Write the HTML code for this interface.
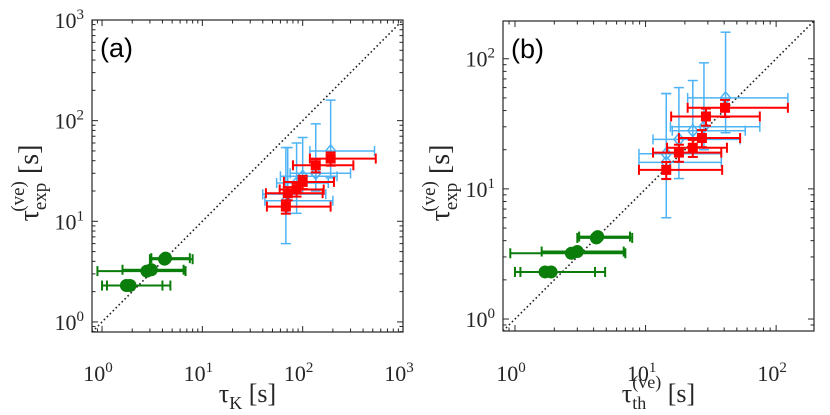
<!DOCTYPE html>
<html><head><meta charset="utf-8"><style>
html,body{margin:0;padding:0;background:#fff}
svg{display:block}
text{font-family:"Liberation Serif",serif;fill:#262626}
</style></head><body>
<svg id="chart" width="830" height="415" viewBox="0 0 830 415" xmlns="http://www.w3.org/2000/svg"></svg>
<script>
// ---- data ----
const greenXA = [1.75, 1.9, 2.8, 3.1, 4.2, 4.3];
const greenXB = [1.7, 1.89, 2.7, 3.0, 4.2, 4.3];
const greenY = [2.3, 2.3, 3.2, 3.3, 4.2, 4.3];
const greenXErrLoA = [1.0, 1.12, 0.9, 1.6, 3.0, 3.1];
const greenXErrHiA = [4.8, 4.0, 6.8, 6.5, 8.0, 7.5];
const greenXErrLoB = [1.0, 1.1, 0.92, 1.6, 3.0, 3.1];
const greenXErrHiB = [4.1, 4.9, 7.0, 6.8, 7.9, 7.6];

const redXA = [190, 135, 100, 87, 71, 68];
const redXB = [40.6, 29, 27, 23, 18, 14.4];
const redY = [42, 36, 24.6, 20.7, 19, 14];
const redXErrLoA = [118, 80, 65, 59, 43, 44];
const redXErrHiA = [535, 320, 205, 162, 158, 190];
const redXErrLoB = [21, 15.7, 18, 14.6, 11.4, 8.9];
const redXErrHiB = [123, 75, 53, 42, 38, 38.6];

const blueXA = [190, 135, 100, 87, 71, 68];
const blueXB = [41, 28, 23, 18, 14.4, 14.4];
const blueY = [50, 30, 28, 24, 18.6, 16];
const blueYErrLo = [27, 20, 19, 12, 12, 6];
const blueYErrHi = [160, 93, 68, 60, 54, 54];
const blueXErrLoA = [118, 75, 60, 55, 40, 42];
const blueXErrHiA = [520, 300, 220, 180, 170, 200];
const blueXErrLoB = [21, 15.5, 16, 11.4, 8.9, 8.9];
const blueXErrHiB = [123, 75, 58, 53, 38, 38];

const ticksA = [0, 1, 2, 3];
const ticksB = [0, 1, 2];

const NS = "http://www.w3.org/2000/svg";
const svg = document.getElementById('chart');
function mk(tag, attrs, parent) {
  const e = document.createElementNS(NS, tag);
  for (const k in attrs) e.setAttribute(k, attrs[k]);
  (parent || svg).appendChild(e);
  return e;
}
function makeAxis(x0, x1, y0, y1, lo, hi) {
  return {
    x: v => x0 + (Math.log10(v) - lo) / (hi - lo) * (x1 - x0),
    y: v => y1 - (Math.log10(v) - lo) / (hi - lo) * (y1 - y0),
    x0, x1, y0, y1, lo, hi
  };
}
const A = makeAxis(92, 403, 20, 332, -0.1, 3);
const B = makeAxis(503, 814, 21, 331, -0.092, 2.29);

function drawPanel(ax, name, ticks, letter, gx, gxl, gxh, rx, rxl, rxh, bx, bxl, bxh, xTitleSub) {
  const g = mk('g', {});
  
  
  const lo = Math.pow(10, ax.lo), hi = Math.pow(10, ax.hi);
  const d = mk('line', {x1: ax.x(lo), y1: ax.y(lo), x2: ax.x(hi), y2: ax.y(hi), stroke: '#222', 'stroke-width': 1.6, 'stroke-dasharray': '1.6 2.6'}, g);
  
  
  const tg = mk('g', {stroke: '#262626', 'stroke-width': 1}, g);
  
  
  for (let dec = Math.floor(ax.lo); dec <= Math.ceil(ax.hi); dec++) {
    for (let m = 1; m <= 9; m++) {
      const v = m * Math.pow(10, dec);
      const lv = Math.log10(v);
      if (lv < ax.lo - 1e-9 || lv > ax.hi + 1e-9) continue;
      const L = m === 1 ? 6 : 3.5;
      const X = ax.x(v), Y = ax.y(v);
      mk('line', {x1: X, y1: ax.y1, x2: X, y2: ax.y1 - L}, tg);
      mk('line', {x1: X, y1: ax.y0, x2: X, y2: ax.y0 + L}, tg);
      mk('line', {x1: ax.x0, y1: Y, x2: ax.x0 + L, y2: Y}, tg);
      mk('line', {x1: ax.x1, y1: Y, x2: ax.x1 - L, y2: Y}, tg);
    }
  }
  ticks.forEach(t => {
    const v = Math.pow(10, t);
    const xl = mk('text', {x: ax.x(v) - 4, y: 381, 'font-size': 22, 'text-anchor': 'middle'}, g);
    
    
    xl.innerHTML = '10<tspan dy="-9" font-size="15">' + t + '</tspan>';
    const yl = mk('text', {x: ax.x0 - 8, y: ax.y(v) + 8, 'font-size': 22, 'text-anchor': 'end'}, g);
    
    
    yl.innerHTML = '10<tspan dy="-9" font-size="15">' + t + '</tspan>';
  });
  const gg = mk('g', {stroke: '#0a7d0a', fill: '#0a7d0a', 'stroke-width': 2}, g);
  
  
  gx.forEach((v, i) => {
    const Y = ax.y(greenY[i]), a1 = ax.x(gxl[i]), a2 = ax.x(gxh[i]);
    mk('line', {x1: a1, y1: Y, x2: a2, y2: Y}, gg);
    mk('line', {x1: a1, y1: Y - 5, x2: a1, y2: Y + 5}, gg);
    mk('line', {x1: a2, y1: Y - 5, x2: a2, y2: Y + 5}, gg);
  });
  gx.forEach((v, i) => {
    const c = mk('circle', {cx: ax.x(v), cy: ax.y(greenY[i]), r: 6.5, stroke: 'none'}, gg);
    
    
  });
  const bg = mk('g', {stroke: '#4db3f5', fill: 'none', 'stroke-width': 1.5}, g);
  
  
  bx.forEach((v, i) => {
    const X = ax.x(v), Y = ax.y(blueY[i]);
    const a1 = ax.x(bxl[i]), a2 = ax.x(bxh[i]);
    const b1 = ax.y(blueYErrLo[i]), b2 = ax.y(blueYErrHi[i]);
    mk('line', {x1: a1, y1: Y, x2: a2, y2: Y}, bg);
    mk('line', {x1: a1, y1: Y - 5, x2: a1, y2: Y + 5}, bg);
    mk('line', {x1: a2, y1: Y - 5, x2: a2, y2: Y + 5}, bg);
    mk('line', {x1: X, y1: b1, x2: X, y2: b2}, bg);
    mk('line', {x1: X - 5, y1: b1, x2: X + 5, y2: b1}, bg);
    mk('line', {x1: X - 5, y1: b2, x2: X + 5, y2: b2}, bg);
    const p = mk('polygon', {points: `${X},${Y-6} ${X+5},${Y} ${X},${Y+6} ${X-5},${Y}`}, bg);
    
    
  });
  const rg = mk('g', {stroke: '#ff0000', fill: '#ff0000', 'stroke-width': 2}, g);
  
  
  rx.forEach((v, i) => {
    const X = ax.x(v), Y = ax.y(redY[i]);
    const a1 = ax.x(rxl[i]), a2 = ax.x(rxh[i]);
    const b1 = ax.y(redY[i] * 0.85), b2 = ax.y(redY[i] * 1.15);
    mk('line', {x1: a1, y1: Y, x2: a2, y2: Y}, rg);
    mk('line', {x1: a1, y1: Y - 5, x2: a1, y2: Y + 5}, rg);
    mk('line', {x1: a2, y1: Y - 5, x2: a2, y2: Y + 5}, rg);
    mk('line', {x1: X, y1: b1, x2: X, y2: b2}, rg);
    mk('line', {x1: X - 5, y1: b1, x2: X + 5, y2: b1}, rg);
    mk('line', {x1: X - 5, y1: b2, x2: X + 5, y2: b2}, rg);
    const s = mk('rect', {x: X - 5, y: Y - 5, width: 10, height: 10, stroke: 'none'}, rg);
    
    
  });
  const box = mk('rect', {x: ax.x0, y: ax.y0, width: ax.x1 - ax.x0, height: ax.y1 - ax.y0, fill: 'none', stroke: '#262626', 'stroke-width': 1.2}, g);
  
  
  const pl = mk('text', {x: ax.x0 + 8, y: ax.y0 + 37, 'font-size': 27, style: 'font-family:"Liberation Sans",sans-serif;fill:#000'}, g);
  
  
  pl.textContent = letter;
  const cx = (ax.x0 + ax.x1) / 2;
  const xt = mk('text', {x: cx, y: 402, 'font-size': 26, 'text-anchor': 'middle'}, g);
  
  
  xt.innerHTML = xTitleSub;
  const cy = (ax.y0 + ax.y1) / 2;
  const yt = mk('text', {x: 0, y: 0, 'font-size': 28, 'text-anchor': 'middle', transform: `translate(${ax.x0 - 54},${cy + 7}) rotate(-90)`}, g);
  
  
  yt.innerHTML = 'τ<tspan dy="8" font-size="19">exp</tspan><tspan dx="-29" dy="-22" font-size="19">(ve)</tspan><tspan dy="14"> [s]</tspan>';
}

drawPanel(A, 'a', ticksA, '(a)', greenXA, greenXErrLoA, greenXErrHiA, redXA, redXErrLoA, redXErrHiA, blueXA, blueXErrLoA, blueXErrHiA,
  'τ<tspan dy="7" font-size="18">K</tspan><tspan dy="-7"> [s]</tspan>');
drawPanel(B, 'b', ticksB, '(b)', greenXB, greenXErrLoB, greenXErrHiB, redXB, redXErrLoB, redXErrHiB, blueXB, blueXErrLoB, blueXErrHiB,
  'τ<tspan dy="7" font-size="18">th</tspan><tspan dx="-14" dy="-21" font-size="18">(ve)</tspan><tspan dy="14"> [s]</tspan>');
</script>
</body></html>
